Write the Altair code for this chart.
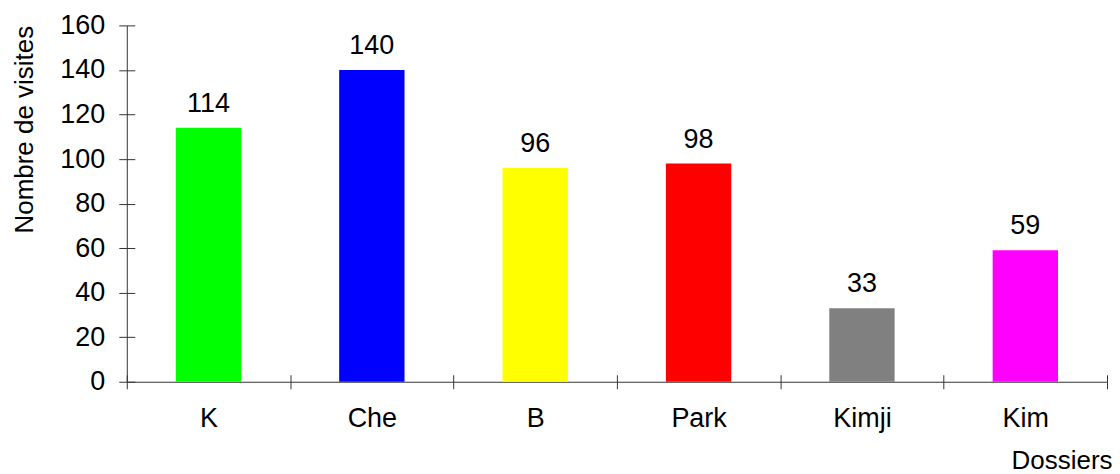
import altair as alt
import pandas as pd

categories = ["K", "Che", "B", "Park", "Kimji", "Kim"]
visits = [114, 140, 96, 98, 33, 59]
bar_colors = ["#00FF00", "#0000FF", "#FFFF00", "#FF0000", "#808080", "#FF00FF"]
y_ticks = [0, 20, 40, 60, 80, 100, 120, 140, 160]

df = pd.DataFrame({"Dossier": categories, "Visites": visits, "Couleur": bar_colors})

FONT = "Liberation Sans"
FS = 27
TFS = 26
AX = "#333333"
W, H = 982, 357

x_scale = alt.Scale(domain=categories, paddingInner=0, paddingOuter=0)
y_scale = alt.Scale(domain=[0, 160], nice=False)

x_axis = alt.Axis(
    orient="bottom",
    title="Dossiers", titleAnchor="end", titleAlign="right", titleX=W + 5,
    titleFont=FONT, titleFontSize=TFS, titleFontWeight="normal", titleColor="black",
    titlePadding=16,
    labelAngle=0, labelFont=FONT, labelFontSize=FS, labelColor="black", labelPadding=17,
    tickBand="extent", tickSize=7, tickColor=AX, domainColor=AX, grid=False,
)
y_axis = alt.Axis(
    orient="left",
    values=y_ticks, title="Nombre de visites", titleAnchor="end",
    titleFont=FONT, titleFontSize=TFS, titleFontWeight="normal", titleColor="black",
    titlePadding=22,
    labelFont=FONT, labelFontSize=FS, labelColor="black", labelPadding=14,
    tickSize=8, tickColor=AX, domainColor=AX, grid=False,
)

bars = alt.Chart(df).mark_bar(width=alt.RelativeBandSize(0.4)).encode(
    x=alt.X("Dossier:N", scale=x_scale, sort=categories, axis=x_axis),
    y=alt.Y("Visites:Q", scale=y_scale, axis=y_axis),
    color=alt.Color("Couleur:N", scale=None),
)

labels = alt.Chart(df).mark_text(
    baseline="alphabetic", dy=-16, font=FONT, fontSize=FS, color="black"
).encode(
    x=alt.X("Dossier:N", scale=x_scale, sort=categories, axis=None),
    y=alt.Y("Visites:Q", scale=y_scale, axis=None),
    text=alt.Text("Visites:Q"),
)

# inner halves of the crossing tick marks
inner = alt.Chart(df).mark_point(opacity=0).encode(
    x=alt.X("Dossier:N", scale=x_scale, sort=categories,
            axis=alt.Axis(orient="bottom", offset=-7, tickBand="extent", tickSize=7,
                          tickColor=AX, domain=False, labels=False, title=None, grid=False)),
    y=alt.Y("Visites:Q", scale=y_scale,
            axis=alt.Axis(orient="left", offset=-8, values=y_ticks, tickSize=8,
                          tickColor=AX, domain=False, labels=False, title=None, grid=False)),
)

chart = alt.layer(bars, labels, inner).resolve_axis(
    x="independent", y="independent"
).properties(
    width=W, height=H,
    padding={"left": 3, "top": 3, "right": 0, "bottom": 5},
    background="white",
).configure_view(stroke=None)

chart.save("out.html", embed_options={"renderer": "svg", "actions": False})
